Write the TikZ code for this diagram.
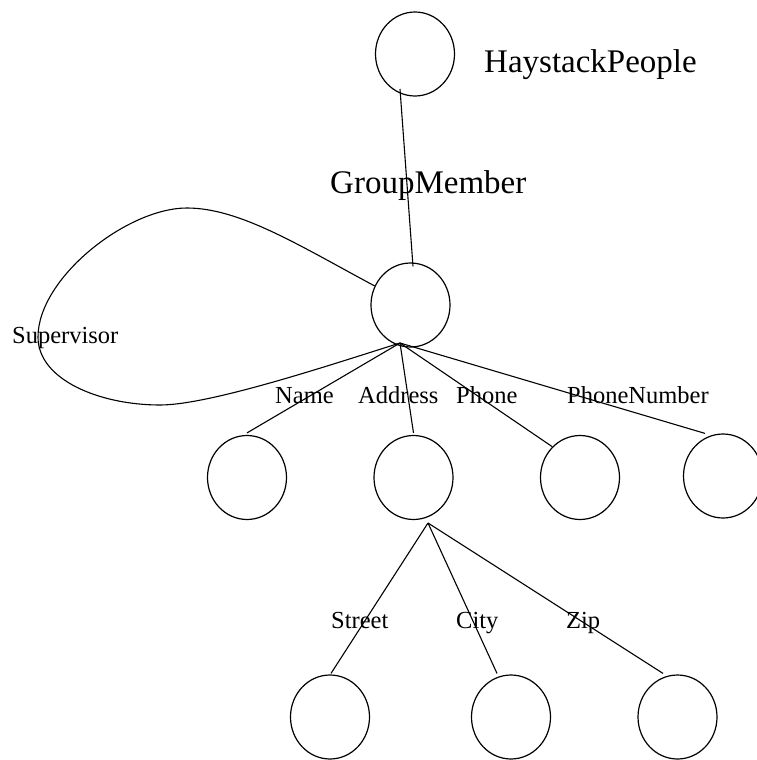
\documentclass[tikz,border=0pt]{standalone}
\usepackage{fontspec}
\setmainfont{Liberation Serif}
\usetikzlibrary{shapes.geometric}
\begin{document}
\begin{tikzpicture}[x=1pt,y=-1pt,
  obj/.style={ellipse,draw,line width=1.2pt,minimum width=79pt,minimum height=84pt,inner sep=0pt},
  edge/.style={line width=1.1pt},
  biglabel/.style={font=\fontsize{33}{40}\selectfont,anchor=base west,inner sep=0pt},
  rolelabel/.style={font=\fontsize{24.5}{29}\selectfont,anchor=base west,inner sep=0pt}]
\useasboundingbox (0,0) rectangle (756,760);

% objects
\node[obj] (people)   at (415,54)     {};
\node[obj] (member)   at (410.5,305)  {};
\node[obj] (name)     at (247,477.5)  {};
\node[obj] (address)  at (413.5,477.5){};
\node[obj] (phone)    at (580,477.5)  {};
\node[obj] (phonenum) at (723,476)    {};
\node[obj] (street)   at (330,717)    {};
\node[obj] (city)     at (511,717)    {};
\node[obj] (zip)      at (677.5,717)  {};

% branching points below the parent objects
\coordinate (hub)  at ([shift={(-10.5,38)}]member.center);
\coordinate (ahub) at ([shift={(14.5,45.5)}]address.center);

% set membership
\draw[edge] ([shift={(-15,35)}]people.center) -- ([shift={(2.5,4)}]member.north);

% Supervisor self-loop
\draw[edge] (member.152) .. controls (300,246) and (240,208) .. (187,208)
  .. controls (127,208) and (38,278) .. (38,337)
  .. controls (38,380) and (100,405) .. (160,405)
  .. controls (210,405) and (330,365) .. (hub);

% attributes of GroupMember
\draw[edge] (hub) -- ([yshift=2pt]name.north);
\draw[edge] (hub) -- ([yshift=2pt]address.north);
\draw[edge] (hub) -- (phone.132);
\draw[edge] (hub) -- ([xshift=-18pt]phonenum.north);

% attributes of Address
\draw[edge] (ahub) -- ([xshift=1pt,yshift=1pt]street.north);
\draw[edge] (ahub) -- ([xshift=-14pt,yshift=1pt]city.north);
\draw[edge] (ahub) -- ([xshift=-14.5pt,yshift=1pt]zip.north);

% labels
\node[biglabel]  (lpeople) at (484,72)  {HaystackPeople};
\node[biglabel]  (lmember) at (330,193) {GroupMember};
\node[rolelabel] (lsuper)  at (12,343)  {Supervisor};
\node[rolelabel] (lname)   at (275,403) {Name};
\node[rolelabel] (laddr)   at (358,403) {Address};
\node[rolelabel] (lphone)  at (456,403) {Phone};
\node[rolelabel] (lpnum)   at (567,403) {PhoneNumber};
\node[rolelabel] (lstreet) at (331,628) {Street};
\node[rolelabel] (lcity)   at (456,628) {City};
\node[rolelabel] (lzip)    at (566,628) {Zip};
\end{tikzpicture}
\end{document}
